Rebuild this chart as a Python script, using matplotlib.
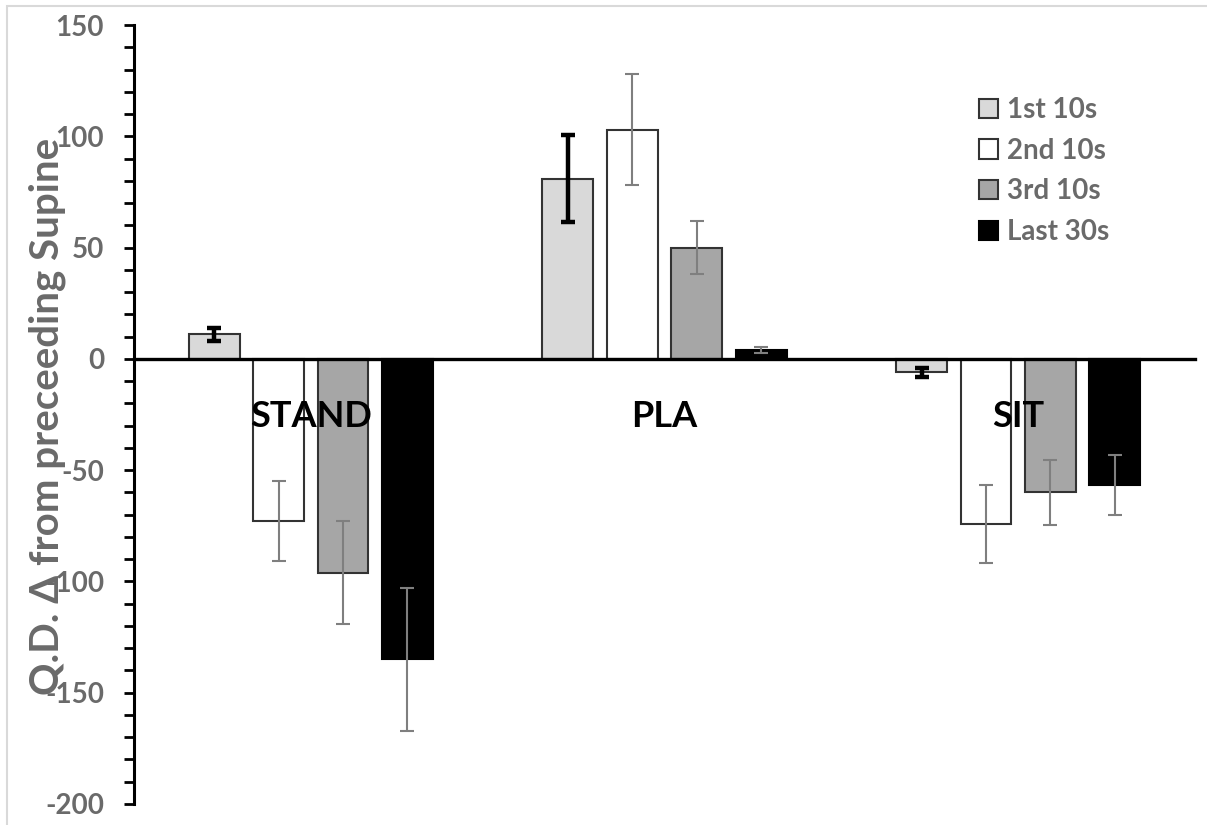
import numpy as np
import matplotlib
matplotlib.use("Agg")
import matplotlib.pyplot as plt
from matplotlib.patches import Rectangle

plt.rcParams["font.family"] = ["Lato", "DejaVu Sans"]
plt.rcParams["font.weight"] = "bold"
plt.rcParams["axes.unicode_minus"] = False

categories = ["STAND", "PLA", "SIT"]
series_names = ["1st 10s", "2nd 10s", "3rd 10s", "Last 30s"]

first_10s = [11, 81, -6]
first_10s_err = [3, 19.5, 2]
second_10s = [-73, 103, -74]
second_10s_err = [18, 25, 17.5]
third_10s = [-96, 50, -60]
third_10s_err = [23, 12, 14.5]
last_30s = [-135, 4, -56.5]
last_30s_err = [32, 1.2, 13.5]

values = [first_10s, second_10s, third_10s, last_30s]
errors = [first_10s_err, second_10s_err, third_10s_err, last_30s_err]
colors = ["#d9d9d9", "#ffffff", "#a6a6a6", "#000000"]
edges = ["#333333", "#333333", "#333333", "#000000"]

GRAY_TXT = "#6a6a6a"

fig = plt.figure(figsize=(12.07, 8.25), dpi=100)
ax = fig.add_axes([134 / 1207, 1 - 804 / 825, (1195 - 134) / 1207, (804 - 25) / 825])

x = np.arange(len(categories))
step = 0.182
width = 0.144
for i, (vals, errs) in enumerate(zip(values, errors)):
    pos = x + (i - 1.5) * step
    ax.bar(pos, vals, width=width, color=colors[i], edgecolor=edges[i],
           linewidth=1.5, label=series_names[i], zorder=2)
    if i == 0:
        ax.errorbar(pos, vals, yerr=errs, fmt="none", ecolor="black",
                    elinewidth=3.2, capsize=5, capthick=3.2, zorder=4)
    else:
        ax.errorbar(pos, vals, yerr=errs, fmt="none", ecolor="#7f7f7f",
                    elinewidth=1.5, capsize=4.7, capthick=1.5, zorder=4)

for xi, name in zip(x, categories):
    ax.text(xi, -26, name, ha="center", va="center", fontsize=26,
            fontweight="bold", color="black", zorder=6)

ax.set_xlim(-0.5, 2.5)
ax.set_ylim(-200, 150)
ax.set_yticks(np.arange(-200, 151, 50))
ax.set_yticks(np.arange(-200, 151, 10), minor=True)
ax.tick_params(axis="y", which="both", direction="out", length=7.5, width=2,
               color="black", labelsize=20, labelcolor=GRAY_TXT, pad=14)
for lab in ax.get_yticklabels():
    lab.set_fontweight("bold")

ax.spines["left"].set_linewidth(2.2)
ax.spines["bottom"].set_position(("data", 0))
ax.spines["bottom"].set_linewidth(2.4)
ax.spines["bottom"].set_zorder(3)
ax.spines["top"].set_visible(False)
ax.spines["right"].set_visible(False)
ax.set_xticks([])

ax.set_ylabel("Q.D. Δ from preceeding Supine", fontsize=29, fontweight="bold",
              color=GRAY_TXT)
ax.yaxis.set_label_coords(-0.064, 0.497)

leg = ax.legend(loc="upper left", bbox_to_anchor=(979 / 1207, 1 - 97 / 825),
                bbox_transform=fig.transFigure, frameon=False, fontsize=20,
                handlelength=0.7, handleheight=0.7, handletextpad=0.3,
                labelspacing=0.53, borderpad=0, borderaxespad=0)
for t in leg.get_texts():
    t.set_color(GRAY_TXT)
    t.set_fontweight("bold")

fig.patches.append(Rectangle((7 / 1207, -0.05), 1.05, 1 - 6 / 825 + 0.05,
                             transform=fig.transFigure, fill=False,
                             edgecolor="#d9d9d9", linewidth=1.5))

fig.savefig("out.png", dpi=100)
